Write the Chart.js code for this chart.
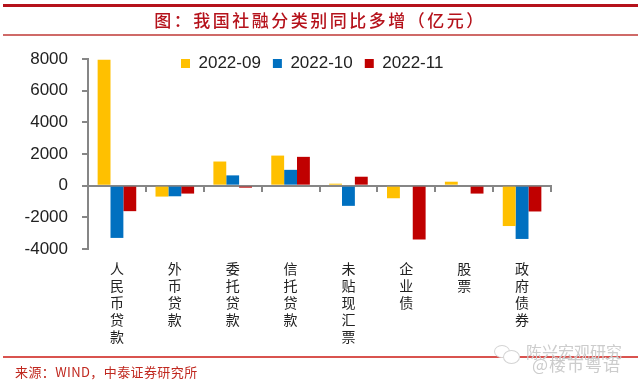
<!DOCTYPE html>
<html>
<head>
<meta charset="utf-8">
<script src="https://cdn.jsdelivr.net/npm/chart.js@4"></script>
<style>
html, body { margin: 0; padding: 0; background: #fff; }
#wrap { position: relative; width: 640px; height: 383px; overflow: hidden; font-family: "Noto Sans CJK SC", sans-serif; }
#chart { position: absolute; left: 0; top: 0; }
.rule { position: absolute; left: 3px; width: 635px; }
#title { position: absolute; left: 0; width: 640px; top: 7px; text-align: center; color: #b5121b; font-size: 17px; font-weight: 500; letter-spacing: 2.5px; line-height: 26px; }
#source { position: absolute; left: 15px; top: 363px; color: #c0281f; font-size: 13px; letter-spacing: 0.4px; line-height: 18px; }
#mark1, #mark2 { position: absolute; color: #cccccc; white-space: nowrap; line-height: 20px; }
#mark1 { left: 526px; top: 341px; font-size: 16px; }
#mark2 { left: 532px; top: 354px; font-size: 17px; letter-spacing: 1px; }
.bubble { position: absolute; border: 1px solid #d4d4d4; border-radius: 50%; background: #fff; }
</style>
</head>
<body>
<div id="wrap">
  <canvas id="chart" width="640" height="383"></canvas>
  <div class="rule" style="top:4px;height:3px;background:#b5121b"></div>
  <div id="title">图：我国社融分类别同比多增（亿元）</div>
  <div class="rule" style="top:34px;height:2px;background:#cf6a68"></div>
  <div class="rule" style="top:356px;height:2px;background:#d9534f"></div>
  <div id="source">来源：WIND，中泰证券研究所</div>
  <div class="bubble" style="left:494px;top:345px;width:14px;height:11px"></div>
  <div class="bubble" style="left:503px;top:350px;width:15px;height:12px"></div>
  <div id="mark1">陈兴宏观研究</div>
  <div id="mark2">@楼市粤语</div>
</div>
<script>
const categories = ['人民币贷款', '外币贷款', '委托贷款', '信托贷款', '未贴现汇票', '企业债', '股票', '政府债券'];
const seriesNames = ['2022-09', '2022-10', '2022-11'];
const sep2022 = [7950, -690, 1525, 1900, 125, -795, 250, -2550];
const oct2022 = [-3300, -670, 650, 1000, -1275, 0, 0, -3365];
const nov2022 = [-1610, -500, -125, 1820, 565, -3400, -500, -1630];
const seriesColors = ['#ffc000', '#0070c0', '#c00000'];

const axisColor = '#868686';

// move the legend to where the reference has it
const legendMover = {
    id: 'legendMover',
    afterLayout(chart) {
        const l = chart.legend;
        const h = l.height;
        l.left = 169; l.right = l.left + 330;
        l.top = 43; l.bottom = l.top + h;
    }
};

new Chart(document.getElementById('chart').getContext('2d'), {
    type: 'bar',
    data: {
        // one character per line, the axis labels read top to bottom
        labels: categories.map(c => c.split('')),
        datasets: [sep2022, oct2022, nov2022].map((values, i) => ({
            label: seriesNames[i],
            data: values,
            backgroundColor: seriesColors[i],
            categoryPercentage: 0.667,
            barPercentage: 1
        }))
    },
    options: {
        responsive: false,
        animation: false,
        layout: { padding: { left: 0, right: 89, top: 20, bottom: 134 } },
        plugins: {
            tooltip: { enabled: false },
            legend: {
                position: 'top',
                align: 'start',
                labels: {
                    boxWidth: 9,
                    boxHeight: 9,
                    padding: 12,
                    color: '#222',
                    font: { family: '"Liberation Sans", Arial, sans-serif', size: 17 }
                }
            }
        },
        scales: {
            x: {
                position: { y: 0 },
                grid: { drawOnChartArea: false, color: axisColor, tickColor: axisColor, tickLength: 5, lineWidth: 2 },
                border: { color: axisColor, width: 2 },
                ticks: {
                    autoSkip: false,
                    maxRotation: 0,
                    padding: 70,
                    color: '#222',
                    font: { family: '"Noto Sans CJK SC", sans-serif', size: 14, lineHeight: '17px' }
                }
            },
            y: {
                min: -4000,
                max: 8000,
                afterFit(scale) { scale.width = 88; },
                grid: { drawOnChartArea: false, color: axisColor, tickColor: axisColor, tickLength: 6, lineWidth: 2 },
                border: { color: axisColor, width: 2 },
                ticks: {
                    stepSize: 2000,
                    padding: 14,
                    color: '#222',
                    font: { family: '"Liberation Sans", Arial, sans-serif', size: 17 },
                    callback: value => String(value)
                }
            }
        }
    },
    plugins: [legendMover]
});
</script>
</body>
</html>
